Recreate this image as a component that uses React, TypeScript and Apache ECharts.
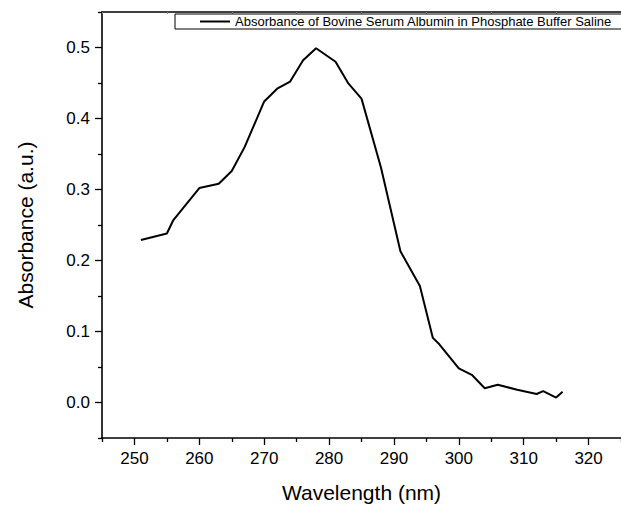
import React, { useEffect, useRef } from "react";
import * as echarts from "echarts";

const wavelengths = [251, 255, 256, 260, 263, 265, 267, 270, 272, 274, 276, 278, 281, 283, 285, 288, 291, 294, 296, 297, 300, 302, 304, 306, 309, 312, 313, 315, 316];
const absorbance = [0.229, 0.238, 0.257, 0.302, 0.308, 0.326, 0.36, 0.424, 0.442, 0.452, 0.482, 0.499, 0.48, 0.449, 0.428, 0.331, 0.213, 0.164, 0.091, 0.082, 0.048, 0.039, 0.02, 0.025, 0.018, 0.012, 0.016, 0.007, 0.015];

const xMajorTicks = [250, 260, 270, 280, 290, 300, 310, 320];
const xMinorTicks = [245, 255, 265, 275, 285, 295, 305, 315, 325];
const yMajorTicks = [0, 0.1, 0.2, 0.3, 0.4, 0.5];
const yMinorTicks = [-0.05, 0.05, 0.15, 0.25, 0.35, 0.45, 0.55];

const seriesName = "Absorbance of Bovine Serum Albumin in Phosphate Buffer Saline";
const xTitle = "Wavelength (nm)";
const yTitle = "Absorbance (a.u.)";

const FONT = "'Liberation Sans', Arial, sans-serif";

export default function App() {
  const ref = useRef<HTMLDivElement>(null);
  useEffect(() => {
    if (!ref.current) return;
    const chart = echarts.init(ref.current, undefined, { renderer: "svg" });
    const axisColor = "#000";
    const xBase = { type: "value", min: 245, max: 325, gridIndex: 0 };
    const yBase = { type: "value", min: -0.05, max: 0.55, gridIndex: 0 };
    chart.setOption({
      animation: false,
      backgroundColor: "#fff",
      textStyle: { fontFamily: FONT },
      grid: { left: 102, top: 12, right: -4, bottom: 70, containLabel: false },
      legend: {
        left: 175,
        top: 14,
        data: [seriesName],
        icon: "rect",
        itemWidth: 30,
        itemHeight: 2,
        borderColor: "#000",
        borderWidth: 1,
        padding: [1, 15, 1, 25],
        itemStyle: { color: "#000" },
        textStyle: { fontSize: 13, fontFamily: FONT, color: "#000" },
      },
      xAxis: [
        {
          ...xBase,
          position: "bottom",
          name: xTitle,
          nameLocation: "middle",
          nameGap: 44,
          nameTextStyle: { fontSize: 21, fontFamily: FONT, color: "#000" },
          axisLine: { show: true, onZero: false, lineStyle: { color: axisColor, width: 1.6 } },
          axisTick: { show: true, inside: false, length: 7, customValues: xMajorTicks, lineStyle: { color: axisColor, width: 1.3 } },
          axisLabel: { show: true, margin: 12, customValues: xMajorTicks, fontSize: 17, fontFamily: FONT, color: "#000" },
          splitLine: { show: false },
        },
        {
          ...xBase,
          position: "bottom",
          axisLine: { show: false, onZero: false },
          axisTick: { show: true, inside: false, length: 4, customValues: xMinorTicks, lineStyle: { color: axisColor, width: 1.3 } },
          axisLabel: { show: false },
          splitLine: { show: false },
        },
        {
          ...xBase,
          position: "top",
          axisLine: { show: true, onZero: false, lineStyle: { color: axisColor, width: 1.6 } },
          axisTick: { show: true, inside: true, length: 2, customValues: xMinorTicks, lineStyle: { color: "#888", width: 1 } },
          axisLabel: { show: false },
          splitLine: { show: false },
        },
      ],
      yAxis: [
        {
          ...yBase,
          position: "left",
          name: yTitle,
          nameLocation: "middle",
          nameGap: 66,
          nameRotate: 90,
          nameTextStyle: { fontSize: 21, fontFamily: FONT, color: "#000" },
          axisLine: { show: true, onZero: false, lineStyle: { color: axisColor, width: 1.6 } },
          axisTick: { show: true, inside: false, length: 7, customValues: yMajorTicks, lineStyle: { color: axisColor, width: 1.3 } },
          axisLabel: {
            show: true,
            margin: 12,
            customValues: yMajorTicks,
            fontSize: 17,
            fontFamily: FONT,
            color: "#000",
            formatter: (v: number) => v.toFixed(1),
          },
          splitLine: { show: false },
        },
        {
          ...yBase,
          position: "left",
          axisLine: { show: false, onZero: false },
          axisTick: { show: true, inside: false, length: 4, customValues: yMinorTicks, lineStyle: { color: axisColor, width: 1.3 } },
          axisLabel: { show: false },
          splitLine: { show: false },
        },
      ],
      series: [
        {
          name: seriesName,
          type: "line",
          xAxisIndex: 0,
          yAxisIndex: 0,
          data: wavelengths.map((w, i) => [w, absorbance[i]]),
          symbol: "none",
          showSymbol: false,
          lineStyle: { color: "#000", width: 2 },
          itemStyle: { color: "#000" },
        },
      ],
    });
    return () => chart.dispose();
  }, []);
  return <div ref={ref} style={{ position: "absolute", left: 0, top: 0, width: 621, height: 508 }} />;
}
